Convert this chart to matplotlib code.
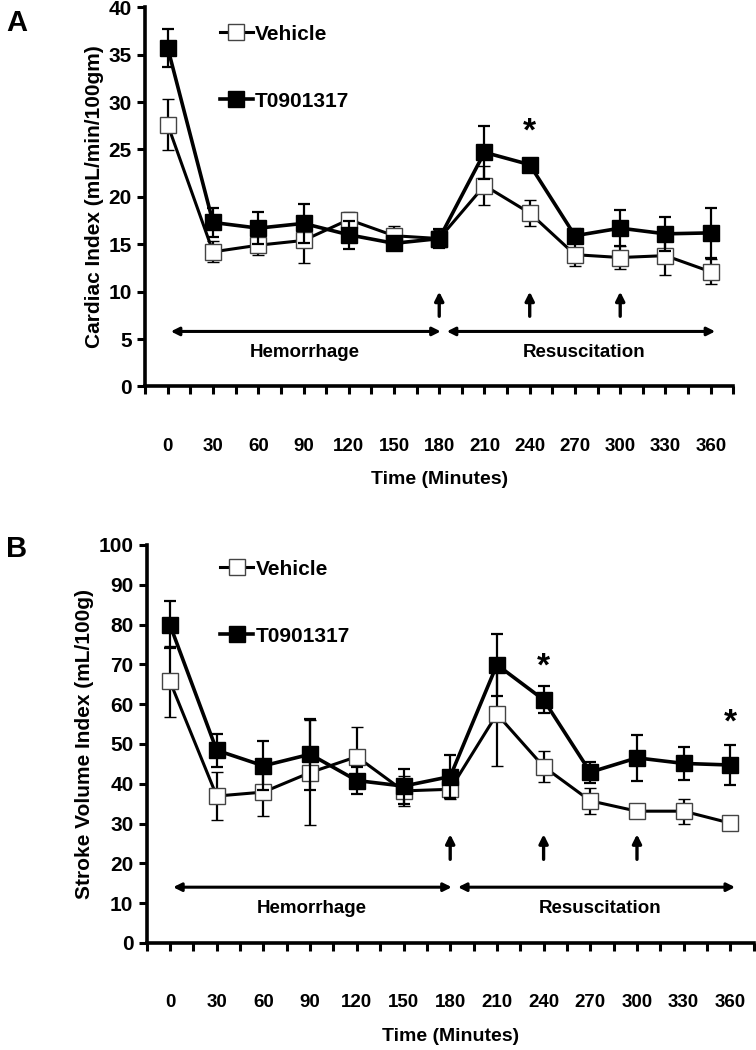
import matplotlib.pyplot as plt
from matplotlib.lines import Line2D

plt.rcParams['font.family'] = ['Liberation Sans', 'DejaVu Sans']
plt.rcParams['font.weight'] = 'bold'

# --- data ---
time = [0, 30, 60, 90, 120, 150, 180, 210, 240, 270, 300, 330, 360]

ci_vehicle = [27.6, 14.2, 14.9, 15.4, 17.6, 15.9, 15.6, 21.2, 18.3, 13.9, 13.6, 13.8, 12.1]
ci_vehicle_err = [2.7, 1.1, 1.0, 2.4, 0.8, 1.0, 0.9, 2.1, 1.4, 1.2, 1.2, 2.0, 1.3]
ci_t09 = [35.7, 17.3, 16.7, 17.2, 16.0, 15.1, 15.6, 24.7, 23.4, 15.9, 16.7, 16.1, 16.2]
ci_t09_err = [2.0, 1.5, 1.7, 2.1, 1.5, 0.7, 1.0, 2.8, 0.6, 0.7, 1.9, 1.8, 2.6]

svi_vehicle = [65.7, 36.9, 37.9, 42.8, 46.8, 38.2, 38.6, 57.5, 44.3, 35.7, 33.1, 33.1, 30.1]
svi_vehicle_err = [9.0, 6.0, 6.0, 13.1, 7.5, 3.7, 2.4, 13.0, 3.9, 3.3, 0.8, 3.1, 0.8]
svi_t09 = [79.9, 48.4, 44.5, 47.4, 40.8, 39.4, 41.8, 69.9, 61.1, 42.9, 46.5, 45.1, 44.7]
svi_t09_err = [5.9, 4.1, 6.2, 8.9, 3.5, 4.4, 5.4, 7.8, 3.4, 2.6, 5.8, 4.1, 5.1]

# annotations (minutes, value)
ci_stars = [(240, 26.8)]
svi_stars = [(240, 69.3), (360, 55.3)]
drug_times = [180, 240, 300]


def draw_panel(ax, veh, veh_err, t09, t09_err, ymax, ystep, ylabel,
               stars, arrow_y, period_y, period_txt_y, leg_anchor):
    ax.errorbar(time, veh, yerr=veh_err, color='black', lw=2.2, elinewidth=1.6,
                capsize=4, capthick=1.6, marker='s', markersize=11,
                markerfacecolor='white', markeredgecolor='#444444',
                markeredgewidth=1.0, zorder=3, label='Vehicle')
    ax.errorbar(time, t09, yerr=t09_err, color='black', lw=2.6, elinewidth=1.6,
                capsize=4, capthick=1.6, marker='s', markersize=11,
                markerfacecolor='black', markeredgecolor='black',
                zorder=4, label='T0901317')

    for x, y in stars:
        ax.text(x, y, '*', ha='center', va='center', fontsize=24, fontweight='bold')

    for x in drug_times:
        ax.annotate('', xy=(x, arrow_y[1]), xytext=(x, arrow_y[0]),
                    arrowprops=dict(arrowstyle='-|>', color='black', lw=2.4,
                                    mutation_scale=13, shrinkA=0, shrinkB=0))

    arrow_kw = dict(arrowstyle='<|-|>', color='black', lw=2.2,
                    mutation_scale=12, shrinkA=0, shrinkB=0)
    ax.annotate('', xy=(2, period_y), xytext=(181, period_y), arrowprops=arrow_kw)
    ax.annotate('', xy=(185, period_y), xytext=(363, period_y), arrowprops=arrow_kw)
    ax.text(91, period_txt_y, 'Hemorrhage', ha='center', va='center',
            fontsize=13.5, fontweight='bold')
    ax.text(276, period_txt_y, 'Resuscitation', ha='center', va='center',
            fontsize=13.5, fontweight='bold')

    ax.set_xlim(-15, 375)
    ax.set_ylim(0, ymax)
    ax.set_xticks(time)
    ax.set_xticks(range(-15, 376, 15), minor=True)
    ax.set_yticks(range(0, ymax + 1, ystep))
    ax.tick_params(axis='x', which='both', direction='out', length=6, width=2.2,
                   pad=31, labelsize=13.5)
    ax.tick_params(axis='y', direction='out', length=6, width=2.2, labelsize=15)
    for lbl in ax.get_xticklabels() + ax.get_yticklabels():
        lbl.set_fontweight('bold')

    for side in ['top', 'right']:
        ax.spines[side].set_visible(False)
    for side in ['left', 'bottom']:
        ax.spines[side].set_linewidth(2.6)

    ax.set_xlabel('Time (Minutes)', fontsize=14, fontweight='bold', labelpad=12)
    ax.set_ylabel(ylabel, fontsize=15, fontweight='bold', labelpad=3)

    handles = [
        Line2D([], [], color='black', lw=2.2, marker='s', markersize=11,
               markerfacecolor='white', markeredgecolor='#444444'),
        Line2D([], [], color='black', lw=2.6, marker='s', markersize=11,
               markerfacecolor='black'),
    ]
    ax.legend(handles, ['Vehicle', 'T0901317'], loc='upper left',
              bbox_to_anchor=leg_anchor, frameon=False, handlelength=1.6,
              handletextpad=0.1, labelspacing=2.3,
              prop={'weight': 'bold', 'size': 15})


fig = plt.figure(figsize=(7.56, 10.5), dpi=100)
ax1 = fig.add_axes([0.192, 0.632, 0.778, 0.361])
ax2 = fig.add_axes([0.194, 0.102, 0.803, 0.379])

draw_panel(ax1, ci_vehicle, ci_vehicle_err, ci_t09, ci_t09_err, 40, 5,
           'Cardiac Index (mL/min/100gm)', ci_stars, (7.4, 10.0), 5.8, 3.6,
           (0.095, 1.004))
draw_panel(ax2, svi_vehicle, svi_vehicle_err, svi_t09, svi_t09_err, 100, 10,
           'Stroke Volume Index (mL/100g)', svi_stars, (21.0, 27.3), 14.0, 8.6,
           (0.09, 1.01))

fig.text(0.008, 0.978, 'A', fontsize=21, fontweight='bold', va='center')
fig.text(0.008, 0.477, 'B', fontsize=21, fontweight='bold', va='center')

plt.savefig('out.png', dpi=100)
